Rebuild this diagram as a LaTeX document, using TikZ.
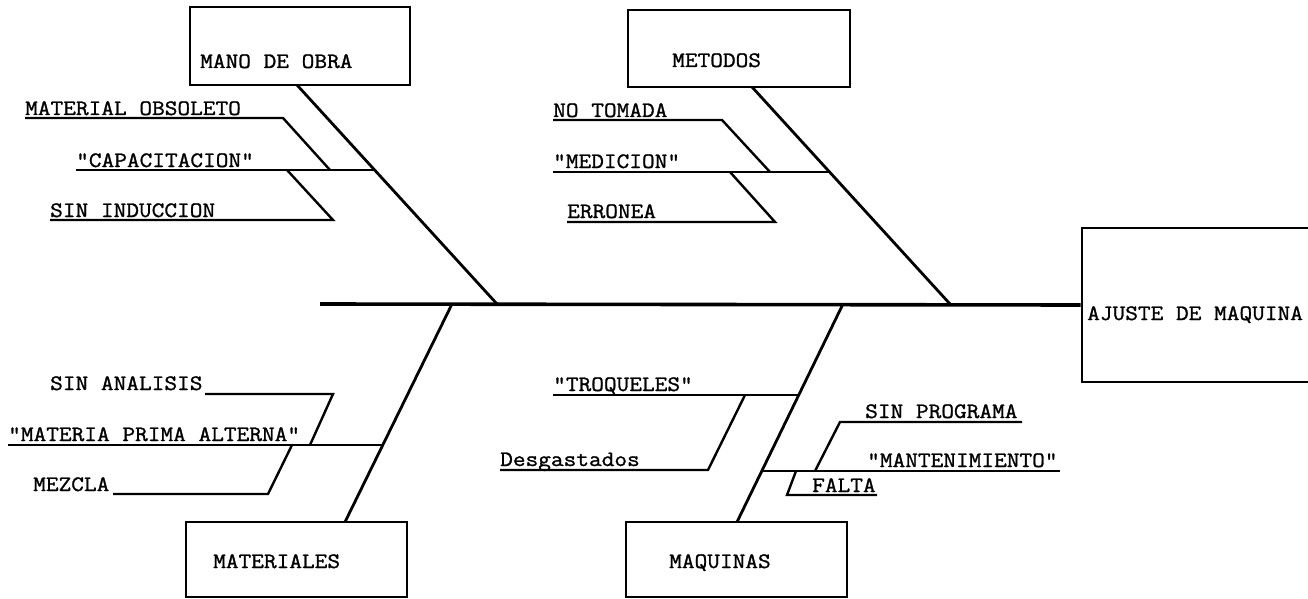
\documentclass[tikz,border=0pt]{standalone}
\usepackage{fontspec}
\newfontfamily\maqfont{Latin Modern Mono}[FakeStretch=1.12, FakeBold=1.2]

\tikzset{
  causebox/.style={draw, line width=2.6pt, inner sep=0pt},
  lbl/.style={font=\maqfont\fontsize{22}{24}\selectfont, inner sep=0pt, anchor=base west},
  spine/.style={line width=3.6pt},
  bone/.style={line width=2.8pt},
  twig/.style={line width=2.4pt, line join=miter},
}

\begin{document}
\begin{tikzpicture}[x=1pt, y=-1pt]
                \useasboundingbox (0,0) rectangle (1308,599);
                % boxes
                \node[causebox, minimum width=220pt, minimum height=78pt] (mano) at (300,46) {};
                \node[causebox, minimum width=222pt, minimum height=77pt] (metodos) at (739,48.5) {};
                \node[causebox, minimum width=221pt, minimum height=75pt] (materiales) at (296.5,559.5) {};
                \node[causebox, minimum width=221pt, minimum height=75pt] (maquinas) at (736.5,559.5) {};
                \node[causebox, minimum width=248pt, minimum height=154pt] (efecto) at (1206,305) {};
                \node[lbl] (manoT) at (200,68) {MANO DE OBRA};
                \node[lbl] (metodosT) at (672,67) {METODOS};
                \node[lbl] (materialesT) at (213,568) {MATERIALES};
                \node[lbl] (maquinasT) at (669,568) {MAQUINAS};
                \node[lbl] (efectoT) at (1087,320) {AJUSTE DE MAQUINA};
                % spine
                \coordinate (cola) at (320,304);
                \draw[spine] (cola) -- (efecto.west);
                % mano de obra
                \coordinate (manoA) at (297,85);
                \coordinate (manoJ) at (497,304);
                \draw[bone] (manoA) -- (manoJ);
                \coordinate (capL) at (76,170);
                \coordinate (capR) at (375,170);
                \coordinate (obsL) at (25,118);
                \coordinate (obsK) at (283,118);
                \coordinate (obsE) at (330,170);
                \coordinate (indL) at (50,220);
                \coordinate (indK) at (333,220);
                \coordinate (indE) at (287,170);
                \draw[twig] (capL) -- (capR);
                \draw[twig] (obsL) -- (obsK) -- (obsE);
                \draw[twig] (indL) -- (indK) -- (indE);
                \node[lbl] (obs) at (25,115) {MATERIAL OBSOLETO};
                \node[lbl] (cap) at (76,167) {"CAPACITACION"};
                \node[lbl] (ind) at (50,217) {SIN INDUCCION};
                % metodos
                \coordinate (metA) at (752,87);
                \coordinate (metJ) at (950,304);
                \draw[bone] (metA) -- (metJ);
                \coordinate (medL) at (553,172);
                \coordinate (medR) at (830,172);
                \coordinate (tomL) at (553,120);
                \coordinate (tomK) at (722,120);
                \coordinate (tomE) at (770,172);
                \coordinate (errL) at (567,222);
                \coordinate (errK) at (775,222);
                \coordinate (errE) at (730,172);
                \draw[twig] (medL) -- (medR);
                \draw[twig] (tomL) -- (tomK) -- (tomE);
                \draw[twig] (errL) -- (errK) -- (errE);
                \node[lbl] (tom) at (553,117) {NO TOMADA};
                \node[lbl] (med) at (553,168) {"MEDICION"};
                \node[lbl] (err) at (567,218) {ERRONEA};
                % materiales
                \coordinate (matJ) at (452,304);
                \coordinate (matA) at (345,522);
                \draw[bone] (matJ) -- (matA);
                \coordinate (altL) at (8,445);
                \coordinate (altR) at (383,445);
                \coordinate (anaL) at (205,394);
                \coordinate (anaK) at (333,394);
                \coordinate (anaE) at (310,445);
                \coordinate (mezL) at (113,494);
                \coordinate (mezK) at (268,494);
                \coordinate (mezE) at (292,445);
                \draw[twig] (altL) -- (altR);
                \draw[twig] (anaL) -- (anaK) -- (anaE);
                \draw[twig] (mezL) -- (mezK) -- (mezE);
                \node[lbl] (ana) at (50,390) {SIN ANALISIS};
                \node[lbl] (alt) at (8,441) {"MATERIA PRIMA ALTERNA"};
                \node[lbl] (mez) at (33,491) {MEZCLA};
                % maquinas
                \coordinate (maqJ) at (843,304);
                \coordinate (maqA) at (737,522);
                \draw[bone] (maqJ) -- (maqA);
                \coordinate (troL) at (553,395);
                \coordinate (troR) at (799,395);
                \coordinate (desL) at (500,470);
                \coordinate (desK) at (708,470);
                \coordinate (desE) at (745,395);
                \coordinate (mntL) at (762,471);
                \coordinate (mntR) at (1060,471);
                \coordinate (proR) at (1022,422);
                \coordinate (proK) at (840,422);
                \coordinate (proE) at (815,471);
                \coordinate (falR) at (877,495);
                \coordinate (falK) at (787,495);
                \coordinate (falE) at (796,471);
                \draw[twig] (troL) -- (troR);
                \draw[twig] (desL) -- (desK) -- (desE);
                \draw[twig] (mntL) -- (mntR);
                \draw[twig] (proR) -- (proK) -- (proE);
                \draw[twig] (falR) -- (falK) -- (falE);
                \node[lbl] (tro) at (553,391) {"TROQUELES"};
                \node[lbl] (des) at (500,466) {Desgastados};
                \node[lbl] (pro) at (865,418) {SIN PROGRAMA};
                \node[lbl] (mnt) at (867,467) {"MANTENIMIENTO"};
                \node[lbl] (fal) at (812,492) {FALTA};
            \end{tikzpicture}
\end{document}
